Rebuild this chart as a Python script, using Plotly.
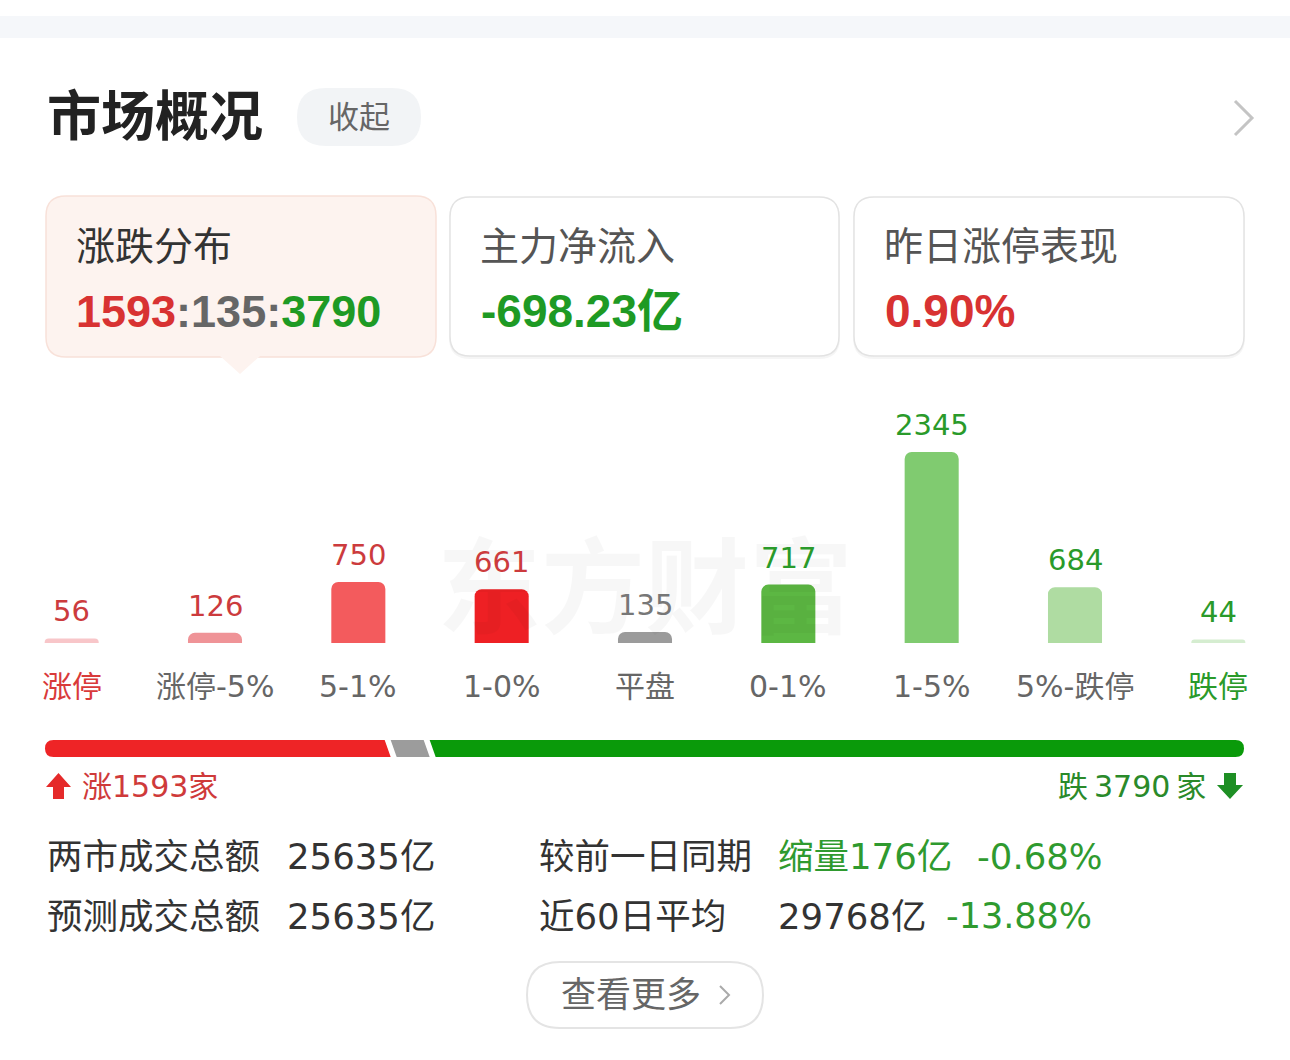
import plotly.graph_objects as go

W, H = 1290, 1060

# ---------------- data ----------------
categories = ["涨停", "涨停-5%", "5-1%", "1-0%", "平盘", "0-1%", "1-5%", "5%-跌停", "跌停"]
counts = [56, 126, 750, 661, 135, 717, 2345, 684, 44]
bar_colors = ["#f8c6c9", "#ef9397", "#f35b5d", "#ee2024", "#9b9b9b",
              "#5cb743", "#80cb70", "#afdca2", "#d5edd0"]
value_colors = ["#cc3b3d", "#cc3b3d", "#cc3b3d", "#cc3b3d", "#777777",
                "#2a9a2a", "#2a9a2a", "#2a9a2a", "#2a9a2a"]
cat_colors = ["#d93a3a", "#666666", "#666666", "#666666", "#666666",
              "#666666", "#666666", "#666666", "#2a9a2a"]

up_count, flat_count, down_count = 1593, 135, 3790
card_titles = ["涨跌分布", "主力净流入", "昨日涨停表现"]
net_inflow = "-698.23亿"
limit_up_perf = "0.90%"
stat_labels_left = ["两市成交总额", "预测成交总额"]
stat_values_left = ["25635亿", "25635亿"]
stat_labels_right = ["较前一日同期", "近60日平均"]
stat_values_right = ["缩量176亿", "29768亿"]
stat_pcts_right = ["-0.68%", "-13.88%"]

FONT = "DejaVu Sans, Noto Sans CJK SC, sans-serif"
FONT_BOLD = "Liberation Sans, Noto Sans CJK SC, sans-serif"
RED = "#d83232"
GREEN = "#1e9a24"


def X(x):
    return x / W


def Y(y):
    return 1 - y / H


def path(points_cmds):
    out = []
    for cmd, pts in points_cmds:
        if cmd == "Z":
            out.append("Z")
        else:
            coords = " ".join(f"{X(a):.5f},{Y(b):.5f}" for a, b in pts)
            out.append(f"{cmd}{coords}")
    return " ".join(out)


def rrect(x0, y0, x1, y1, r):
    return path([
        ("M", [(x0 + r, y0)]), ("L", [(x1 - r, y0)]), ("Q", [(x1, y0), (x1, y0 + r)]),
        ("L", [(x1, y1 - r)]), ("Q", [(x1, y1), (x1 - r, y1)]),
        ("L", [(x0 + r, y1)]), ("Q", [(x0, y1), (x0, y1 - r)]),
        ("L", [(x0, y0 + r)]), ("Q", [(x0, y0), (x0 + r, y0)]), ("Z", []),
    ])


shapes = []
annotations = []


def shp(p, fill, line=None, lw=0, layer="below"):
    shapes.append(dict(type="path", path=p, xref="paper", yref="paper",
                       fillcolor=fill, line=dict(color=line or fill, width=lw),
                       layer=layer))


def ann(text, x, y, size, color, xanchor="left", weight=None, family=FONT, yanchor="middle"):
    f = dict(family=family, size=size, color=color)
    if weight:
        f["weight"] = weight
    annotations.append(dict(text=text, x=X(x), y=Y(y), xref="paper", yref="paper",
                            xanchor=xanchor, yanchor=yanchor, showarrow=False, font=f))


# header band
shp(path([("M", [(0, 16)]), ("L", [(W, 16)]), ("L", [(W, 38)]), ("L", [(0, 38)]), ("Z", [])]), "#f5f7fa")

# title
ann("市场概况", 45, 117, 54, "#222222", weight=700, family=FONT_BOLD)
shp(rrect(297, 88, 421, 146, 29), "#f2f4f6")
ann("收起", 359, 117, 31, "#666666", xanchor="center")
shapes.append(dict(type="path", xref="paper", yref="paper",
                   path=path([("M", [(1235, 101)]), ("L", [(1252, 118)]), ("L", [(1235, 135)])]),
                   line=dict(color="#c4c4c4", width=3)))

# cards
card_x = [(46, 436), (450, 839), (854, 1244)]
for i, (x0, x1) in enumerate(card_x):
    if i == 0:
        shp(rrect(x0, 196, x1, 357, 20), "#fdf3ef", "#f8e1d9", 1.5)
        shp(path([("M", [(220, 356)]), ("L", [(240, 374)]), ("L", [(260, 356)]), ("Z", [])]), "#fdf3ef")
    else:
        shp(rrect(x0 - 1, 197, x1 + 1, 359, 21), "rgba(0,0,0,0.04)")
        shp(rrect(x0, 197, x1, 356, 20), "#ffffff", "#e3e3e3", 1.5)
    ann(card_titles[i], x0 + 28, 246, 39, "#333333" if i == 0 else "#555555")

ann(f"<span style='color:{RED}'>{up_count}</span>:{flat_count}:"
    f"<span style='color:{GREEN}'>{down_count}</span>", 74, 311, 45, "#666666",
    weight=700, family=FONT_BOLD)
ann(net_inflow, 479, 311, 46, GREEN, weight=700, family=FONT_BOLD)
ann(limit_up_perf, 883, 311, 46, RED, weight=700, family=FONT_BOLD)

# watermark
ann("东方财富", 645, 590, 104, "rgba(0,0,0,0.03)", xanchor="center", weight=700)

# bars
base_px, top_px = 643, 400
px_per_unit = 191 / 2345
yrange_max = (base_px - top_px) / px_per_unit

bar = go.Bar(x=categories, y=counts, marker=dict(color=bar_colors, cornerradius=7, line=dict(width=0)),
             width=0.377, hoverinfo="skip")

for c, v, col in zip(categories, counts, value_colors):
    annotations.append(dict(text=str(v), x=c, y=v, xref="x", yref="y", yanchor="bottom",
                            yshift=8, showarrow=False, font=dict(family=FONT, size=29, color=col)))
for c, col in zip(categories, cat_colors):
    annotations.append(dict(text=c, x=c, y=Y(686), xref="x", yref="paper", yanchor="middle",
                            showarrow=False, font=dict(family=FONT, size=30, color=col)))

# progress bar
bx0, bx1, by0, by1 = 45, 1244, 740, 757
gap, sl = 6, 6
total = up_count + flat_count + down_count
avail = (bx1 - bx0) - 2 * gap
wr = avail * up_count / total
wg = max(avail * flat_count / total, 33)
r = (by1 - by0) / 2
ym = (by0 + by1) / 2
xr = bx0 + wr
shp(path([("M", [(bx0 + r, by0)]), ("L", [(xr - sl / 2, by0)]), ("L", [(xr + sl / 2, by1)]),
          ("L", [(bx0 + r, by1)]), ("Q", [(bx0, by1), (bx0, ym)]), ("Q", [(bx0, by0), (bx0 + r, by0)]),
          ("Z", [])]), "#ee2426")
gs = xr + gap
shp(path([("M", [(gs - sl / 2, by0)]), ("L", [(gs + wg - sl / 2, by0)]), ("L", [(gs + wg + sl / 2, by1)]),
          ("L", [(gs + sl / 2, by1)]), ("Z", [])]), "#9c9c9c")
ds = gs + wg + gap
shp(path([("M", [(ds - sl / 2, by0)]), ("L", [(bx1 - r, by0)]), ("Q", [(bx1, by0), (bx1, ym)]),
          ("Q", [(bx1, by1), (bx1 - r, by1)]), ("L", [(ds + sl / 2, by1)]), ("Z", [])]), "#0a9a0a")

# up / down arrows and counts
shp(path([("M", [(58.5, 773)]), ("L", [(71, 787)]), ("L", [(64, 787)]), ("L", [(64, 799)]),
          ("L", [(53, 799)]), ("L", [(53, 787)]), ("L", [(46, 787)]), ("Z", [])]), "#e52a2a")
ann(f"涨{up_count}家", 80, 786, 30, "#cf3a3a")
shp(path([("M", [(1230, 799)]), ("L", [(1243, 785)]), ("L", [(1236, 785)]), ("L", [(1236, 773)]),
          ("L", [(1224, 773)]), ("L", [(1224, 785)]), ("L", [(1217, 785)]), ("Z", [])]), "#1e8f24")
ann(f"跌\u2009{down_count}\u2009家", 1208, 786, 30, "#2a8a2a", xanchor="right")

# stats rows
SS = 35.5
for i, yy in enumerate([856, 916]):
    ann(stat_labels_left[i], 45, yy, SS, "#333333")
    ann(stat_values_left[i], 285, yy, SS, "#333333")
    ann(stat_labels_right[i], 537, yy, SS, "#333333")
ann(stat_values_right[0], 776, 856, SS, "#2f9a2f")
ann(stat_pcts_right[0], 975, 856, SS, "#2f9a2f")
ann(stat_values_right[1], 776, 916, SS, "#333333")
ann(stat_pcts_right[1], 944, 916, 35, "#2f9a2f")

# button
shp(rrect(527, 962, 763, 1028, 33), "#ffffff", "#e4e4e4", 2)
ann("查看更多", 631, 995, 35, "#666666", xanchor="center")
shapes.append(dict(type="path", xref="paper", yref="paper",
                   path=path([("M", [(720, 986)]), ("L", [(729, 995)]), ("L", [(720, 1004)])]),
                   line=dict(color="#aaaaaa", width=2)))

fig = go.Figure(bar)
fig.update_layout(
    width=W, height=H, margin=dict(l=0, r=0, t=0, b=0),
    paper_bgcolor="#ffffff", plot_bgcolor="rgba(0,0,0,0)",
    showlegend=False, shapes=shapes, annotations=annotations,
    xaxis=dict(domain=[0, 1], range=[-0.5, 8.5], visible=False, type="category",
               categoryorder="array", categoryarray=categories, fixedrange=True),
    yaxis=dict(domain=[Y(base_px), Y(top_px)], range=[0, yrange_max], visible=False, fixedrange=True),
    font=dict(family=FONT),
)
fig.write_html("out.html")
